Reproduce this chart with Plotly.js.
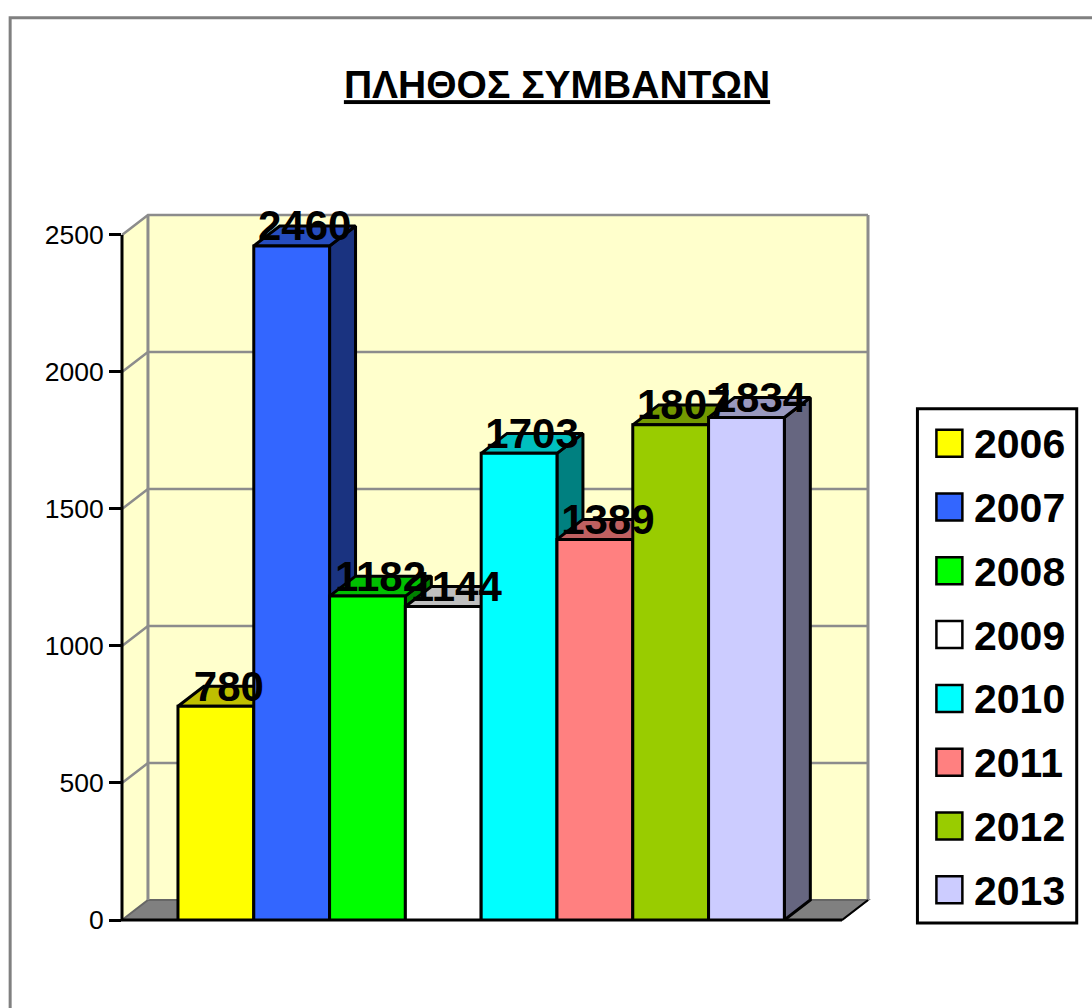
<!DOCTYPE html>
<html>
<head>
<meta charset="utf-8">
<script src="https://cdn.plot.ly/plotly-3.0.1.min.js"></script>
<style>html,body{margin:0;padding:0;background:#fff}#chart{width:1092px;height:1008px}</style>
</head>
<body>
<div id="chart"></div>
<script>
const years = ['2006','2007','2008','2009','2010','2011','2012','2013'];
const counts = [780,2460,1182,1144,1703,1389,1807,1834];
const frontColors = ['#FFFF00','#3366FF','#00FF00','#FFFFFF','#00FFFF','#FF8080','#99CC00','#CCCCFF'];
const topColors = ['#BFBF00','#264DBF','#00BF00','#BFBFBF','#00BFBF','#BF6060','#739900','#9999BF'];
const sideColors = ['#808000','#1A3380','#008000','#808080','#008080','#804040','#4D6600','#666680'];
const yTicks = [0,500,1000,1500,2000,2500];
const titleText = 'ΠΛΗΘΟΣ ΣΥΜΒΑΝΤΩΝ';

const W = 1092, H = 1008;
const plot = {l:121.5, r:868.5, t:215.5, b:920.5};
const pw = plot.r-plot.l, ph = plot.b-plot.t;
const pxPerCat = 75.9, pxPerVal = 0.2744;
const xRange = [(plot.l-215.5)/pxPerCat, (plot.r-215.5)/pxPerCat];
const yRange = [0, ph/pxPerVal];
const dx = 26/pxPerCat, dy = 20/pxPerVal;

const fx = x => (x-xRange[0])/(xRange[1]-xRange[0]);
const fy = y => (y-yRange[0])/(yRange[1]-yRange[0]);
const ppx = p => (p-plot.l)/pw;
const ppy = p => (plot.b-p)/ph;

const poly = (pts, fill, color, w) => ({
  type:'path', xref:'paper', yref:'paper', layer:'below',
  path:'M'+pts.map(p=>fx(p[0])+','+fy(p[1])).join('L')+'Z',
  fillcolor:fill, line:{color:color||fill, width:w===undefined?3:w}
});
const seg = (pts, color, w) => ({
  type:'path', xref:'paper', yref:'paper', layer:'below',
  path:'M'+pts.map(p=>fx(p[0])+','+fy(p[1])).join('L'),
  line:{color:color, width:w}
});

const x0 = xRange[0], x1 = xRange[1], xb = x0+dx, xf = x1-dx;
const vMax = yTicks[yTicks.length-1];
const grid = '#8C8C8C';
const shapes = [];
// page frame
shapes.push({type:'path', xref:'paper', yref:'paper', layer:'below',
  path:`M${ppx(1100)},${ppy(17)}L${ppx(9.5)},${ppy(17)}L${ppx(9.5)},${ppy(1020)}`,
  line:{color:'#808080', width:3}});
// walls and floor
shapes.push(poly([[xb,dy],[x1,dy],[x1,vMax+dy],[xb,vMax+dy]], '#FFFFCC', grid, 0));
shapes.push(poly([[x0,0],[xb,dy],[xb,vMax+dy],[x0,vMax]], '#FFFFCC', grid, 0));
shapes.push(poly([[x0,0],[xb,dy],[x1,dy],[xf,0]], '#808080', '#666666', 2));
// gridlines on the walls
yTicks.slice(1).forEach(v => shapes.push(seg([[x0,v],[xb,v+dy],[x1,v+dy]], grid, 2.5)));
shapes.push(seg([[xb,dy],[xb,vMax+dy]], grid, 3));
shapes.push(seg([[x1,dy],[x1,vMax+dy]], grid, 3));
// axis lines
shapes.push(seg([[x0,vMax],[x0,0],[xf,0]], '#000000', 3));
shapes.push(seg([[xf,0],[x1,dy]], '#000000', 2));

const traces = [];
counts.forEach((v,i) => {
  const l = i-0.5, r = i+0.5;
  traces.push({type:'scatter', mode:'lines', x:[r,r+dx,r+dx,r,r], y:[0,dy,v+dy,v,0], fill:'toself',
    fillcolor:sideColors[i], line:{color:'#000',width:3}, showlegend:false, hoverinfo:'skip', cliponaxis:false});
  traces.push({type:'scatter', mode:'lines', x:[l,l+dx,r+dx,r,l], y:[v,v+dy,v+dy,v,v], fill:'toself',
    fillcolor:topColors[i], line:{color:'#000',width:3}, showlegend:false, hoverinfo:'skip', cliponaxis:false});
});
traces.push({type:'bar', x:counts.map((_,i)=>i), y:counts, width:1, xaxis:'x2', yaxis:'y2',
  marker:{color:frontColors, line:{color:'#000',width:3}}, hovertext:years, showlegend:false, cliponaxis:false});
traces.push({type:'scatter', mode:'text', xaxis:'x2', yaxis:'y2',
  x:counts.map((_,i)=>i+dx/2), y:counts.map(v=>v+dy*0.8), text:counts.map(String), textposition:'middle center',
  textfont:{family:'Liberation Sans, Arial, sans-serif', size:42, color:'#000', weight:700},
  showlegend:false, hoverinfo:'skip', cliponaxis:false});

// legend box
const annotations = [];
shapes.push({type:'rect', xref:'paper', yref:'paper', layer:'above',
  x0:ppx(918), x1:ppx(1077.5), y0:ppy(408.5), y1:ppy(923.5), fillcolor:'#FFFFFF', line:{color:'#000',width:3}});
years.forEach((yr,i) => {
  const cy = 443 + i*63.9;
  shapes.push({type:'rect', xref:'paper', yref:'paper', layer:'above',
    x0:ppx(937), x1:ppx(963), y0:ppy(cy-13.5), y1:ppy(cy+13.5), fillcolor:frontColors[i], line:{color:'#000',width:2.5}});
  annotations.push({xref:'paper', yref:'paper', x:ppx(973), y:ppy(cy+1), xanchor:'left', yanchor:'middle', showarrow:false,
    text:'<b>'+yr+'</b>', font:{family:'Liberation Sans, Arial, sans-serif', size:41, color:'#000'}});
});

const layout = {
  width:W, height:H, paper_bgcolor:'#FFFFFF', plot_bgcolor:'rgba(0,0,0,0)', showlegend:false,
  margin:{l:plot.l, r:W-plot.r, t:plot.t, b:H-plot.b, pad:0},
  barmode:'overlay',
  title:{text:'<b><u>'+titleText+'</u></b>', x:557/W, xanchor:'center', y:1-84.5/H, yanchor:'middle',
    font:{family:'Liberation Sans, Arial, sans-serif', size:39, color:'#000'}},
  xaxis:{range:xRange, visible:false, fixedrange:true},
  yaxis:{range:yRange, tickvals:yTicks, ticktext:yTicks.map(String), ticks:'outside', ticklen:12, tickwidth:3, tickcolor:'#000',
    showgrid:false, zeroline:false, showline:false, fixedrange:true,
    tickfont:{family:'Liberation Sans, Arial, sans-serif', size:26.5, color:'#000'}},
  xaxis2:{range:xRange, overlaying:'x', visible:false, fixedrange:true},
  yaxis2:{range:yRange, overlaying:'y', visible:false, fixedrange:true},
  shapes, annotations
};
Plotly.newPlot('chart', traces, layout, {displayModeBar:false, responsive:false});
</script>
</body>
</html>
